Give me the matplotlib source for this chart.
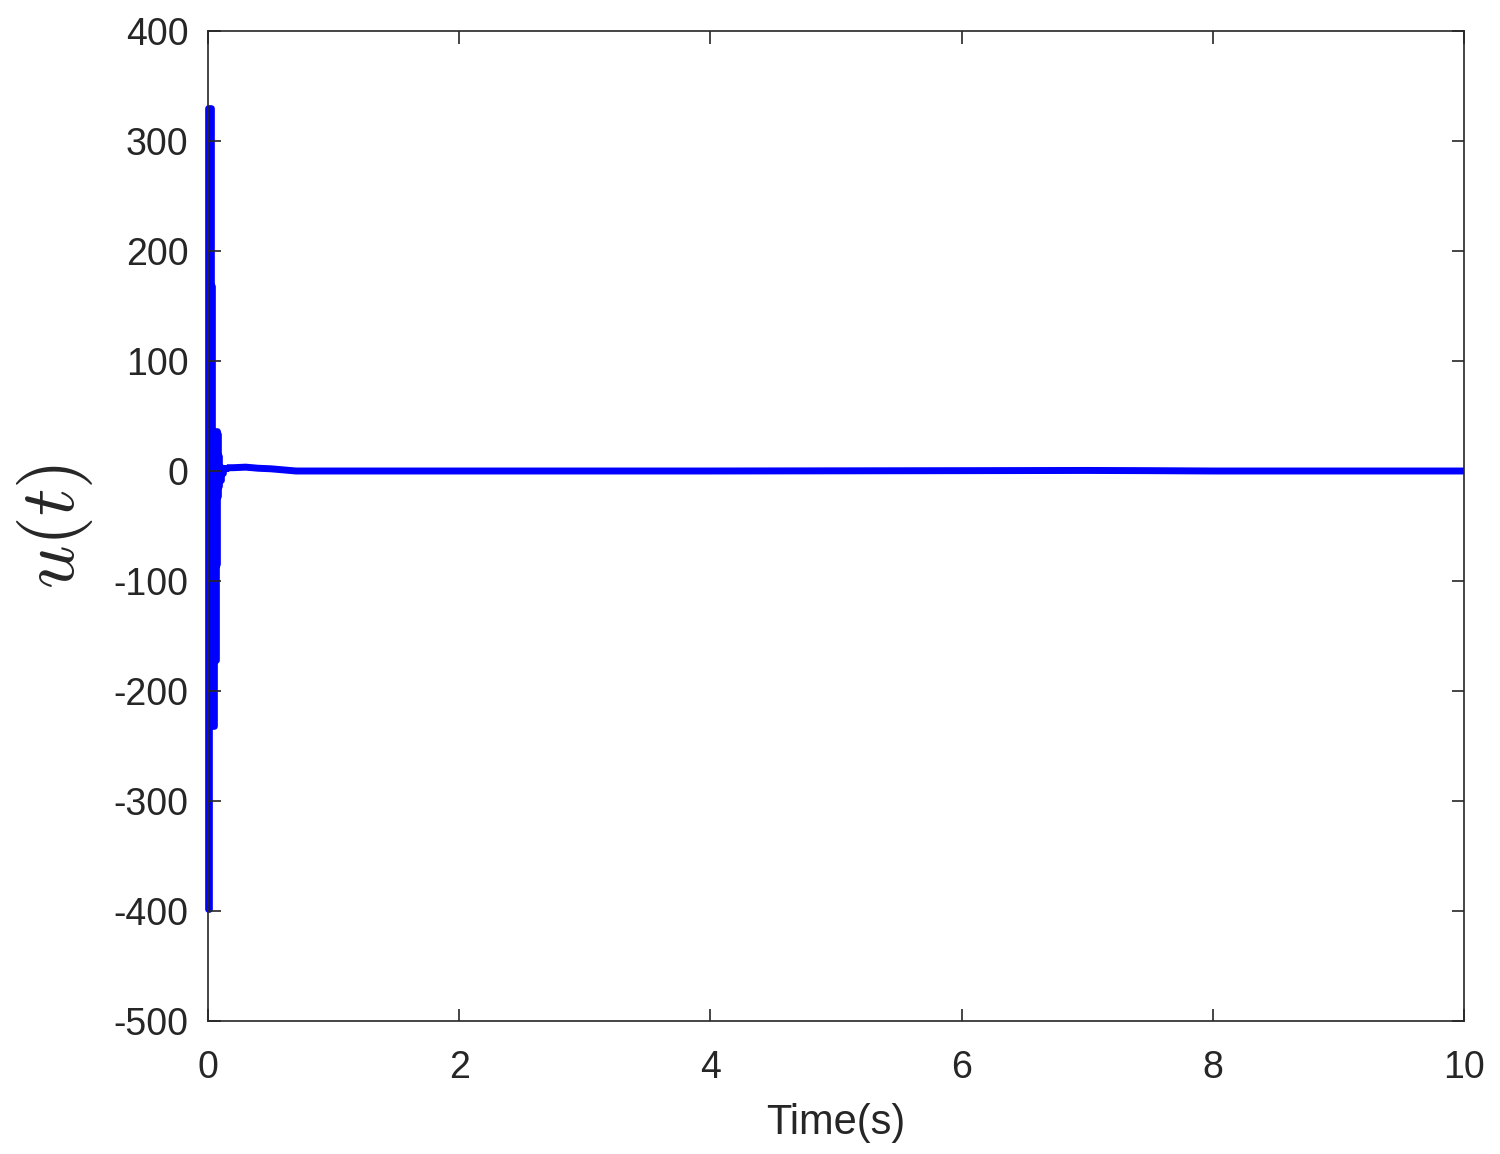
import numpy as np
import matplotlib
matplotlib.use("Agg")
import matplotlib.pyplot as plt

# control signal envelope (chattering band)
t_env = [0, 0.01, 0.02, 0.03, 0.045, 0.06, 0.07, 0.08, 0.09, 0.1, 0.12, 0.15]
u_hi = [330, 330, 168, 36, 36, 36, 34, 14, 4, 3, 3, 3]
u_lo = [-398, -232, -232, -232, -172, -85, -23, -14, -8, -2, 3, 3]

# settled tail
t_tail = [0.15, 0.2, 0.3, 0.4, 0.5, 0.6, 0.7, 2, 4, 6, 7, 7.5, 8, 10]
u_tail = [3, 3, 3.5, 2.5, 2, 1, 0, 0, 0, 0.3, 0.5, 0.3, 0, 0]

xticks = [0, 2, 4, 6, 8, 10]
yticks = [-500, -400, -300, -200, -100, 0, 100, 200, 300, 400]

plt.rcParams['font.family'] = ['Liberation Sans', 'DejaVu Sans']
plt.rcParams['mathtext.fontset'] = 'cm'

fig = plt.figure(figsize=(15, 11.54), dpi=100)
ax = fig.add_axes([0.1387, 0.1153, 0.8373, 0.8578])

blue = '#0000ff'
ax.fill_between(t_env, u_lo, u_hi, step='post', color=blue, edgecolor=blue,
                linewidth=4.8, clip_on=False)
ax.plot(t_tail, u_tail, color=blue, linewidth=5, solid_capstyle='butt')

ax.set_xlim(0, 10)
ax.set_ylim(-500, 400)
ax.set_xticks(xticks)
ax.set_yticks(yticks)
ax.set_xticklabels([str(v) for v in xticks])
ax.set_yticklabels([str(v) for v in yticks])

dark = '#262626'
for s in ax.spines.values():
    s.set_color(dark)
    s.set_linewidth(1.2)
ax.tick_params(direction='in', length=9, width=1.2, colors=dark, labelsize=27,
               top=True, right=True)
ax.tick_params(axis='x', pad=21)
ax.tick_params(axis='y', pad=14)

ax.set_xlabel('Time(s)', fontsize=30, color=dark)
ax.xaxis.set_label_coords(0.5, -0.083)
ax.set_ylabel(r'$u(t)$', fontsize=55, color=dark)
ax.yaxis.set_label_coords(-0.09, 0.5)

fig.savefig('out.png', dpi=100)
